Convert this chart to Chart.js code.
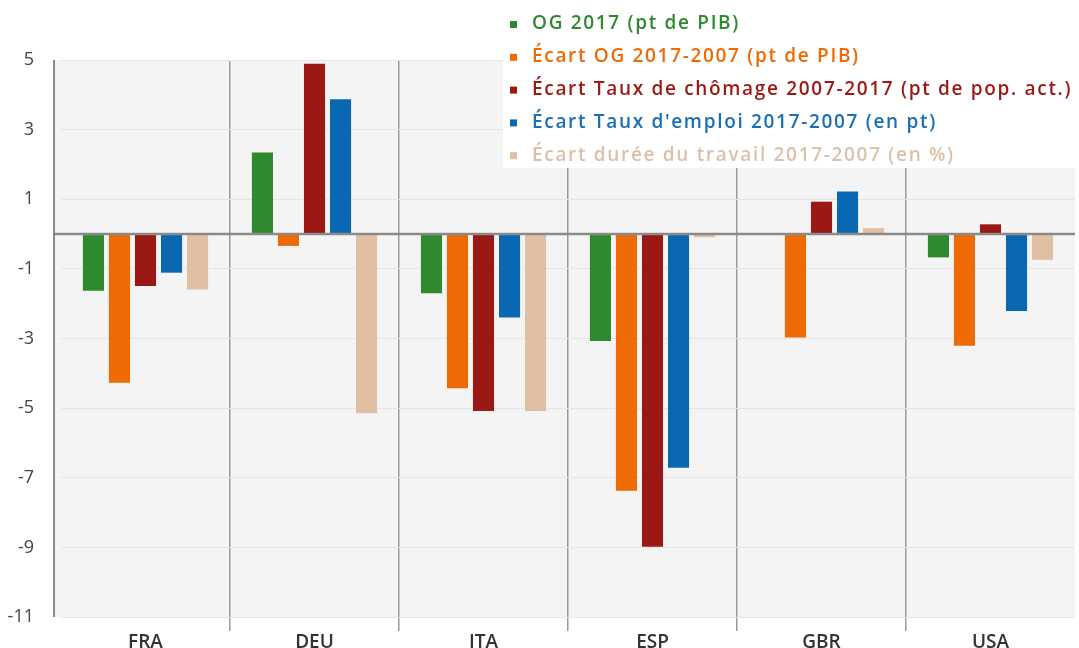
<!DOCTYPE html>
<html>
<head>
<meta charset="utf-8">
<script src="https://cdn.jsdelivr.net/npm/chart.js@4/dist/chart.umd.min.js"></script>
<style>
  html, body { margin: 0; padding: 0; background: #fff; }
  #wrap { width: 1079px; height: 648px; }
</style>
</head>
<body>
<div id="wrap"><canvas id="chart" width="1079" height="648"></canvas></div>
<script>
const countries = ['FRA', 'DEU', 'ITA', 'ESP', 'GBR', 'USA'];

const ogLevel = [-1.63, 2.34, -1.70, -3.07, 0, -0.67];
const ogGap = [-4.27, -0.34, -4.43, -7.37, -2.97, -3.21];
const unemploymentGap = [-1.49, 4.89, -5.08, -8.98, 0.93, 0.28];
const employmentGap = [-1.11, 3.87, -2.40, -6.71, 1.22, -2.21];
const hoursGap = [-1.59, -5.15, -5.08, -0.09, 0.17, -0.74];

const seriesLabels = [
    'OG 2017 (pt de PIB)',
    'Écart OG 2017-2007 (pt de PIB)',
    'Écart Taux de chômage 2007-2017 (pt de pop. act.)',
    "Écart Taux d'emploi 2017-2007 (en pt)",
    'Écart durée du travail 2017-2007 (en %)'
];
const seriesColors = ['#2f8a2f', '#ee6a05', '#9b1915', '#0a68b3', '#e0bfa3'];
const labelColors = ['#2f8a2f', '#ee6a05', '#9b1915', '#1a6fb5', '#dcc1a8'];

const FONT = '"Open Sans", Lato, sans-serif';
const AXIS_GAP = 7; // y axis line sits a little left of the first category

// grey plot background + y axis line
const plotBg = {
    id: 'plotBg',
    beforeDraw(chart) {
        const a = chart.chartArea, ctx = chart.ctx;
        ctx.save();
        ctx.fillStyle = '#f4f4f4';
        ctx.fillRect(a.left - AXIS_GAP, a.top, a.right - a.left + AXIS_GAP, a.bottom - a.top);
        ctx.restore();
    },
    afterDraw(chart) {
        const a = chart.chartArea, ctx = chart.ctx;
        ctx.save();
        ctx.strokeStyle = '#666';
        ctx.lineWidth = 1.5;
        ctx.beginPath();
        ctx.moveTo(a.left - AXIS_GAP, a.top);
        ctx.lineTo(a.left - AXIS_GAP, a.bottom);
        ctx.stroke();
        ctx.restore();
    }
};

// dark line at zero
const zeroLine = {
    id: 'zeroLine',
    afterDatasetsDraw(chart) {
        const a = chart.chartArea, ctx = chart.ctx;
        const y = chart.scales.y.getPixelForValue(0);
        ctx.save();
        ctx.strokeStyle = '#8a8a8a';
        ctx.lineWidth = 2.5;
        ctx.beginPath();
        ctx.moveTo(a.left - AXIS_GAP, y);
        ctx.lineTo(a.right, y);
        ctx.stroke();
        ctx.restore();
    }
};

// legend in a white box over the top right of the plot
const boxLegend = {
    id: 'boxLegend',
    afterDraw(chart) {
        const ctx = chart.ctx;
        ctx.save();
        ctx.fillStyle = '#ffffff';
        ctx.fillRect(503, 0, 576, 168);
        ctx.font = '600 19px ' + FONT;
        ctx.textBaseline = 'middle';
        // spread letters a little so the longest label ends near x=1072
        const longest = Math.max.apply(null, seriesLabels.map(function (t) { return ctx.measureText(t).width; }));
        const longestLen = Math.max.apply(null, seriesLabels.map(function (t) { return t.length; }));
        const spacing = Math.max(0, (540 - longest) / longestLen);
        ctx.letterSpacing = spacing.toFixed(2) + 'px';
        chart.data.datasets.forEach(function (ds, i) {
            const y = 24 + i * 32.8;
            ctx.fillStyle = ds.backgroundColor;
            ctx.fillRect(510, y - 3, 7, 7);
            ctx.fillStyle = labelColors[i];
            ctx.fillText(ds.label, 532, y);
        });
        ctx.restore();
    }
};

const allValues = [ogLevel, ogGap, unemploymentGap, employmentGap, hoursGap];

new Chart(document.getElementById('chart').getContext('2d'), {
    type: 'bar',
    data: {
        labels: countries,
        datasets: allValues.map(function (vals, i) {
            return {
                label: seriesLabels[i],
                data: vals,
                backgroundColor: seriesColors[i],
                borderWidth: 0,
                categoryPercentage: 0.77,
                barPercentage: 0.81
            };
        })
    },
    options: {
        responsive: false,
        animation: false,
        layout: { padding: { top: 60, right: 4, left: 0, bottom: 0 } },
        plugins: {
            legend: { display: false },
            tooltip: { enabled: false }
        },
        scales: {
            x: {
                afterFit(scale) { scale.height = 31; },
                grid: {
                    offset: true,
                    color: function (c) {
                        return (c.index === undefined || c.index === 0) ? 'transparent' : '#9a9a9a';
                    },
                    lineWidth: 1.5,
                    tickLength: 14
                },
                border: { display: false },
                ticks: {
                    color: '#333',
                    padding: 0,
                    font: { family: FONT, size: 19, weight: '600' }
                }
            },
            y: {
                min: -11,
                max: 5,
                afterFit(scale) {
                    scale.width = 61;
                    // tick padding would otherwise push the chart bottom up
                    scale.paddingTop = 0;
                    scale.paddingBottom = 0;
                },
                ticks: {
                    stepSize: 2,
                    color: '#444',
                    padding: 27,
                    font: { family: FONT, size: 18 }
                },
                grid: { color: '#e6e6e6', lineWidth: 1, drawTicks: false },
                border: { display: false }
            }
        }
    },
    plugins: [plotBg, zeroLine, boxLegend]
});
</script>
</body>
</html>
